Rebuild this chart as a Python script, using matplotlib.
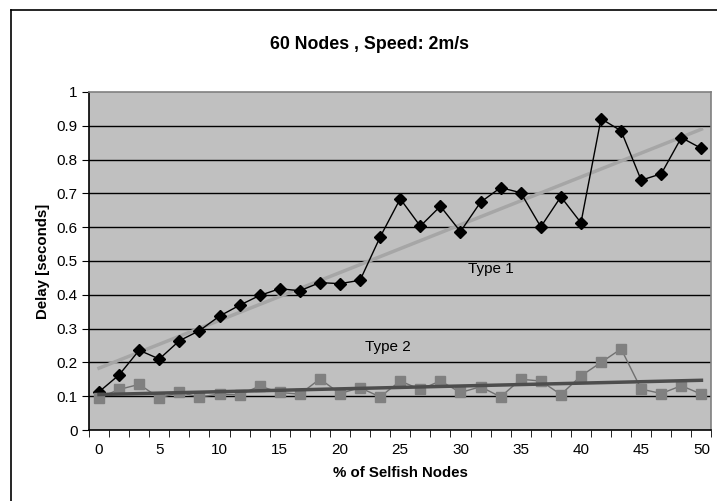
import numpy as np
import matplotlib
matplotlib.use('Agg')
import matplotlib.pyplot as plt
from matplotlib.lines import Line2D

plt.rcParams['font.family'] = ['Liberation Sans', 'DejaVu Sans']

# delay values for the 31 sample points (0% .. 50% selfish nodes)
type1 = [0.113, 0.163, 0.236, 0.210, 0.264, 0.294, 0.337, 0.369, 0.398, 0.418,
         0.412, 0.436, 0.433, 0.443, 0.571, 0.684, 0.603, 0.662, 0.587, 0.674,
         0.717, 0.702, 0.601, 0.690, 0.613, 0.921, 0.885, 0.739, 0.758, 0.865,
         0.833]
type2 = [0.095, 0.120, 0.135, 0.095, 0.111, 0.098, 0.106, 0.104, 0.130, 0.111,
         0.106, 0.151, 0.108, 0.125, 0.098, 0.145, 0.120, 0.145, 0.111, 0.128,
         0.098, 0.150, 0.145, 0.105, 0.160, 0.200, 0.240, 0.121, 0.108, 0.131,
         0.106]
tick_labels = ['0', '5', '10', '15', '20', '25', '30', '35', '40', '45', '50']

x = np.arange(len(type1))

fig = plt.figure(figsize=(7.17, 5.01), dpi=100)
ax = fig.add_axes([0.1241, 0.1417, 0.8682, 0.6747])
ax.set_facecolor('#c0c0c0')

# horizontal grid lines
for y in np.arange(0.1, 1.0, 0.1):
    ax.axhline(y, color='black', lw=1.0, zorder=1)

ax.plot(x, type1, color='black', lw=1.0, marker='D', markersize=6.5,
        markerfacecolor='black', zorder=3)
ax.plot(x, type2, color='#707070', lw=1.0, marker='s', markersize=6.5,
        markerfacecolor='#808080', markeredgecolor='#808080', zorder=3)

# linear trend lines
c1 = np.polyfit(x, type1, 1)
c2 = np.polyfit(x, type2, 1)
ax.plot(x, np.polyval(c1, x), color='#a6a6a6', lw=2.5, zorder=2)
ax.plot(x, np.polyval(c2, x), color='#4d4d4d', lw=2.5, zorder=4)

ax.text(19.5, 0.475, 'Type 1', fontsize=11, ha='center', va='center')
ax.text(14.4, 0.245, 'Type 2', fontsize=11, ha='center', va='center')

ax.set_xlim(-0.5, len(type1) - 0.5)
ax.set_ylim(0, 1)
ax.set_xticks(x[::3])
ax.set_xticklabels(tick_labels)
ax.set_xticks(np.arange(-0.5, len(type1), 1.0), minor=True)
ax.tick_params(axis='x', which='major', length=0, pad=9, labelsize=11)
ax.tick_params(axis='x', which='minor', length=5, direction='out', color='black')
ax.set_yticks(np.arange(0, 1.01, 0.1))
ax.set_yticklabels(['0', '0.1', '0.2', '0.3', '0.4', '0.5', '0.6', '0.7', '0.8', '0.9', '1'])
ax.tick_params(axis='y', length=5, direction='out', labelsize=11, pad=3)

ax.spines['left'].set_color('black')
ax.spines['bottom'].set_color('black')
ax.spines['top'].set_color('#808080')
ax.spines['right'].set_color('#808080')
for s in ax.spines.values():
    s.set_linewidth(1.2)

ax.set_xlabel('% of Selfish Nodes', fontsize=10.8, fontweight='bold', labelpad=7)
ax.set_ylabel('Delay [seconds]', fontsize=10.8, fontweight='bold', labelpad=5)
fig.text(0.5153, 0.912, '60 Nodes , Speed: 2m/s', fontsize=12.8, fontweight='bold',
         ha='center', va='center')

# chart area border (only left and top visible)
fig.add_artist(Line2D([11 / 717, 11 / 717], [0, 1 - 10 / 501], color='black', lw=1.2))
fig.add_artist(Line2D([11 / 717, 1], [1 - 10 / 501, 1 - 10 / 501], color='black', lw=1.2))

fig.savefig('out.png', dpi=100)
